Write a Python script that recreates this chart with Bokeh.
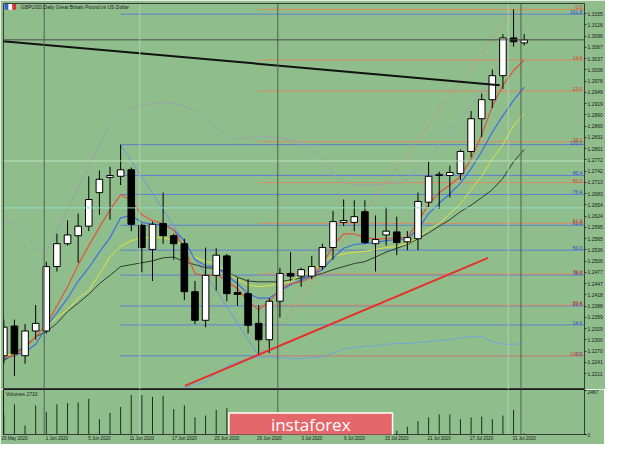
from bokeh.plotting import figure
from bokeh.models import (Range1d, FixedTicker, PrintfTickFormatter, Label, Span,
                          BoxAnnotation, ColumnDataSource)
from bokeh.layouts import column
from bokeh.embed import file_html
from bokeh.resources import INLINE
from bokeh.core.properties import value

NAN = float("nan")

# ---------------- data ----------------
opens = [1.2258, 1.2336, 1.2258, 1.2323, 1.2323, 1.2492, 1.2552, 1.2573, 1.2598, 1.2686,
         1.2726, 1.2729, 1.2746, 1.2600, 1.2537, 1.2605, 1.2573, 1.2552, 1.2426, 1.2351,
         1.2469, 1.2520, 1.2424, 1.2421, 1.2343, 1.2300, 1.2401, 1.2474, 1.2467, 1.2467,
         1.2492, 1.2542, 1.2608, 1.2608, 1.2636, 1.2552, 1.2575, 1.2583, 1.2557, 1.2565,
         1.2661, 1.2731, 1.2731, 1.2736, 1.2794, 1.2880, 1.2930, 1.2993, 1.3092, 1.3079]
highs = [1.2353, 1.2353, 1.2341, 1.2391, 1.2505, 1.2578, 1.2613, 1.2631, 1.2729, 1.2744,
         1.2754, 1.2812, 1.2752, 1.2605, 1.2610, 1.2686, 1.2578, 1.2565, 1.2454, 1.2542,
         1.2540, 1.2525, 1.2462, 1.2459, 1.2391, 1.2409, 1.2489, 1.2530, 1.2489, 1.2520,
         1.2552, 1.2638, 1.2668, 1.2666, 1.2666, 1.2626, 1.2648, 1.2623, 1.2585, 1.2686,
         1.2767, 1.2741, 1.2757, 1.2799, 1.2900, 1.2946, 1.3009, 1.3102, 1.3167, 1.3102]
lows = [1.2237, 1.2205, 1.2237, 1.2300, 1.2316, 1.2479, 1.2547, 1.2502, 1.2585, 1.2628,
        1.2615, 1.2706, 1.2585, 1.2477, 1.2454, 1.2552, 1.2510, 1.2404, 1.2341, 1.2333,
        1.2429, 1.2401, 1.2389, 1.2316, 1.2258, 1.2265, 1.2358, 1.2454, 1.2439, 1.2459,
        1.2484, 1.2510, 1.2598, 1.2585, 1.2552, 1.2479, 1.2547, 1.2522, 1.2535, 1.2535,
        1.2648, 1.2643, 1.2673, 1.2719, 1.2779, 1.2832, 1.2908, 1.2958, 1.3069, 1.3072]
closes = [1.2333, 1.2263, 1.2323, 1.2343, 1.2492, 1.2552, 1.2575, 1.2598, 1.2668, 1.2721,
          1.2731, 1.2746, 1.2603, 1.2542, 1.2603, 1.2573, 1.2552, 1.2426, 1.2351, 1.2469,
          1.2522, 1.2421, 1.2419, 1.2338, 1.2300, 1.2401, 1.2474, 1.2467, 1.2484, 1.2492,
          1.2542, 1.2610, 1.2613, 1.2623, 1.2555, 1.2563, 1.2585, 1.2555, 1.2568, 1.2663,
          1.2729, 1.2734, 1.2739, 1.2794, 1.2880, 1.2930, 1.2993, 1.3092, 1.3082, 1.3087]
volumes = [1100, 1690, 499, 1628, 1271, 1690, 1754, 1796, 2000, 856,
           1208, 1544, 2210, 2210, 2105, 2168, 1418, 1628, 961, 1061,
           1376, 1481, 961, 950, 980, 900, 940, 870, 1010, 820,
           760, 930, 1000, 780, 960, 720, 640, 210, 436, 751,
           961, 1124, 1124, 856, 961, 998, 856, 1061, 1376, 60]

ma_red = [1.2253, 1.2258, 1.2278, 1.2308, 1.2338, 1.2389, 1.2439, 1.2497, 1.2547, 1.2595,
          1.2641, 1.2681, 1.2666, 1.2628, 1.2613, 1.2605, 1.2588, 1.2540, 1.2474, 1.2467,
          1.2472, 1.2454, 1.2434, 1.2401, 1.2379, 1.2399, 1.2434, 1.2447, 1.2452, 1.2464,
          1.2497, 1.2547, 1.2578, 1.2578, 1.2568, 1.2565, 1.2565, 1.2568, 1.2568, 1.2610,
          1.2656, 1.2686, 1.2706, 1.2729, 1.2774, 1.2837, 1.2913, 1.2968, 1.3006, 1.3034]
ma_blue = [1.2250, 1.2258, 1.2268, 1.2288, 1.2333, 1.2371, 1.2409, 1.2454, 1.2489, 1.2530,
           1.2568, 1.2620, 1.2626, 1.2608, 1.2603, 1.2603, 1.2588, 1.2560, 1.2510, 1.2494,
           1.2492, 1.2469, 1.2447, 1.2421, 1.2409, 1.2409, 1.2429, 1.2444, 1.2457, 1.2469,
           1.2484, 1.2515, 1.2540, 1.2550, 1.2552, 1.2555, 1.2560, 1.2563, 1.2565, 1.2590,
           1.2631, 1.2658, 1.2683, 1.2711, 1.2749, 1.2794, 1.2845, 1.2888, 1.2928, 1.2963]
ma_yellow = [1.2263, 1.2260, 1.2278, 1.2308, 1.2333, 1.2358, 1.2379, 1.2409, 1.2429, 1.2472,
             1.2517, 1.2545, 1.2560, 1.2568, 1.2568, 1.2568, 1.2560, 1.2545, 1.2517, 1.2505,
             1.2500, 1.2477, 1.2459, 1.2444, 1.2439, 1.2442, 1.2447, 1.2454, 1.2469, 1.2479,
             1.2505, 1.2520, 1.2525, 1.2530, 1.2532, 1.2537, 1.2542, 1.2545, 1.2552, 1.2568,
             1.2590, 1.2605, 1.2631, 1.2656, 1.2694, 1.2729, 1.2774, 1.2812, 1.2862, 1.2893]
ma_dark = [1.2245, 1.2263, 1.2283, 1.2308, 1.2321, 1.2343, 1.2374, 1.2396, 1.2419, 1.2447,
           1.2469, 1.2492, 1.2497, 1.2502, 1.2507, 1.2515, 1.2517, 1.2505, 1.2497, 1.2489,
           1.2487, 1.2477, 1.2464, 1.2454, 1.2452, 1.2452, 1.2452, 1.2457, 1.2462, 1.2467,
           1.2474, 1.2484, 1.2492, 1.2500, 1.2505, 1.2517, 1.2530, 1.2540, 1.2550, 1.2565,
           1.2580, 1.2598, 1.2615, 1.2636, 1.2653, 1.2673, 1.2694, 1.2724, 1.2767, 1.2799]
bb_upper = [1.2615, 1.2603, 1.2578, 1.2540, 1.2530, 1.2585, 1.2641, 1.2699, 1.2749, 1.2812,
            1.2862, 1.2888, 1.2908, 1.2915, 1.2920, 1.2923, 1.2920, 1.2913, 1.2898, 1.2878,
            1.2855, 1.2837, 1.2825, 1.2830, 1.2832, 1.2832, 1.2830, 1.2825, 1.2817, 1.2799,
            1.2774, 1.2736, 1.2711, 1.2706, 1.2706, 1.2706, 1.2709, 1.2711, 1.2721, 1.2749,
            1.2779, 1.2812, 1.2842, 1.2878, 1.2913, 1.2951, 1.2993, 1.3039, 1.3089, 1.3127]
bb_lower = [NAN] * 17 + [1.2174, 1.2182, 1.2190, 1.2212, 1.2232, 1.2242, 1.2250, 1.2255,
                         1.2255, 1.2253, 1.2250, 1.2250, 1.2253, 1.2255, 1.2265, 1.2275,
                         1.2280, 1.2283, 1.2283, 1.2288, 1.2290, 1.2290, 1.2293, 1.2295,
                         1.2298, 1.2300, 1.2305, 1.2308, 1.2308, 1.2295, 1.2288, 1.2288,
                         1.2290]

date_tick_bars = [0, 4, 8, 12, 16, 20, 24, 28, 32, 36, 40, 44, 48]
date_tick_labels = ["26 May 2020", "1 Jun 2020", "5 Jun 2020", "11 Jun 2020", "17 Jun 2020",
                    "23 Jun 2020", "29 Jun 2020", "3 Jul 2020", "9 Jul 2020", "15 Jul 2020",
                    "21 Jul 2020", "27 Jul 2020", "31 Jul 2020"]
price_ticks = [1.3155, 1.3126, 1.3096, 1.3067, 1.3037, 1.3008, 1.2978, 1.2949, 1.2919, 1.2890,
               1.2860, 1.2831, 1.2801, 1.2772, 1.2742, 1.2713, 1.2683, 1.2654, 1.2624, 1.2595,
               1.2565, 1.2536, 1.2506, 1.2477, 1.2447, 1.2418, 1.2388, 1.2359, 1.2329, 1.2300,
               1.2270, 1.2241, 1.2211]
volume_ticks = [0, 2467]

fib_ratios = [0.0, 0.146, 0.236, 0.382, 0.5, 0.618, 0.764, 0.854, 1.0, 1.618]
fib_texts = ["0.0", "14.6", "23.6", "38.2", "50.0", "61.8", "76.4", "85.4", "100.0", "161.8"]
fib_blue_bars = [11, 24]      # swing high (Jun 10) -> swing low (Jun 29)
fib_orange_bars = [48, 24]    # swing high (Jul 31) -> swing low (Jun 29)

trend_black_x = [-0.3, 46.7]
trend_black_y = [1.3084, 1.2968]
trend_red_x = [17.05, 45.6]
trend_red_y = [1.2179, 1.2515]
hline_levels = [1.2769, 1.2646]
sep_dark = [3.8, 25.8, 48.7]
sep_light = [12.8, 47.5]

# ---------------- styling ----------------
BG = "#8fbd8b"
FONT = "Liberation Sans"
X_START, X_END = -0.03, 54.68
FRAME_W = 581

n = len(closes)
bars = list(range(n))
x_range = Range1d(X_START, X_END)

main = figure(frame_width=FRAME_W, frame_height=386, x_range=x_range,
              y_range=Range1d(1.21694, 1.31824), x_axis_location=None,
              y_axis_location="right", toolbar_location=None, output_backend="svg",
              min_border_left=3, min_border_top=3, min_border_right=20, min_border_bottom=0,
              background_fill_color=BG, border_fill_color=BG,
              outline_line_color="#3a3a3a", outline_line_width=1)
main.xgrid.grid_line_color = None
main.ygrid.grid_line_color = None
ya = main.yaxis[0]
ya.ticker = FixedTicker(ticks=price_ticks)
ya.formatter = PrintfTickFormatter(format="%.4f")
ya.major_label_text_font = FONT
ya.major_label_text_font_size = "5px"
ya.major_label_text_color = "#1a1a1a"
ya.major_label_standoff = 1
ya.major_tick_out = 2
ya.major_tick_in = 0
ya.minor_tick_line_color = None
ya.axis_line_color = "#3a3a3a"
ya.major_tick_line_color = "#3a3a3a"

# horizontal lines (bid line + two marker lines) and period separators
main.add_layout(Span(location=closes[-1], dimension="width", line_color="#4d4d4d", line_width=1))
main.add_layout(Span(location=hline_levels[0], dimension="width", line_color="#c6e2c2", line_width=1))
main.add_layout(Span(location=hline_levels[1], dimension="width", line_color="#8fe0cc", line_width=1))
for s in sep_dark:
    main.add_layout(Span(location=s, dimension="height", line_color="#555f55", line_width=1))
for s in sep_light:
    main.add_layout(Span(location=s, dimension="height", line_color="#b4ccb0", line_width=1))

# Fibonacci levels
b_hi, b_lo = highs[fib_blue_bars[0]], lows[fib_blue_bars[1]]
blue_levels = [b_lo + r * (b_hi - b_lo) for r in fib_ratios]
o_hi, o_lo = highs[fib_orange_bars[0]], lows[fib_orange_bars[1]]
orange_ratios = fib_ratios[:-1]
orange_texts = fib_texts[:-1]
orange_levels = [o_hi - r * (o_hi - o_lo) for r in orange_ratios]

main.segment(x0=[fib_blue_bars[0]] * len(blue_levels), y0=blue_levels,
             x1=[X_END] * len(blue_levels), y1=blue_levels,
             line_color="#5b82d2", line_width=1)
main.segment(x0=[fib_orange_bars[1]] * len(orange_levels), y0=orange_levels,
             x1=[X_END] * len(orange_levels), y1=orange_levels,
             line_color="#d98c62", line_width=1)
main.line([fib_blue_bars[0], fib_blue_bars[1]], [b_hi, b_lo], line_color="#6f96dc", line_width=1)
main.line([fib_orange_bars[1], fib_orange_bars[0]], [o_lo, o_hi], line_color="#cf9068",
          line_width=1, line_dash="3 2")

# Bollinger bands and moving averages
main.line(bars, bb_upper, line_color="#98a4aa", line_width=1)
main.line(bars, bb_lower, line_color="#6fa6d8", line_width=1)
main.line(bars, ma_dark, line_color="#2e3e2e", line_width=1)
main.line(bars, ma_yellow, line_color="#e2e23c", line_width=1)
main.line(bars, ma_blue, line_color="#3f6fe0", line_width=1.2)
main.line(bars, ma_red, line_color="#e0553e", line_width=1.2)

# candles
src = ColumnDataSource(dict(
    x=bars, o=opens, h=highs, l=lows, c=closes,
    top=[max(a, b) for a, b in zip(opens, closes)],
    bottom=[min(a, b) for a, b in zip(opens, closes)],
    fill=["#ffffff" if c >= o else "#000000" for o, c in zip(opens, closes)],
))
main.segment(x0="x", y0="l", x1="x", y1="h", source=src, line_color="#000000", line_width=1)
main.vbar(x="x", width=0.62, top="top", bottom="bottom", fill_color="fill",
          line_color="#000000", line_width=1, source=src)

# trend lines
main.line(trend_black_x, trend_black_y, line_color="#111111", line_width=2)
main.line(trend_red_x, trend_red_y, line_color="#e8302a", line_width=2)

# Fibonacci labels
main.text(x=[X_END - 0.2] * len(blue_levels), y=blue_levels, text=fib_texts,
          text_align="right", text_baseline="bottom", text_font=value(FONT),
          text_font_size="5px", text_color="#2c4ccc")
main.text(x=[X_END - 0.2] * len(orange_levels), y=orange_levels, text=orange_texts,
          text_align="right", text_baseline="bottom", text_font=value(FONT),
          text_font_size="5px", text_color="#d4401e")

# price tags on the axis
def axis_tag(y, bg, fg):
    main.add_layout(Label(x=X_END, y=y, text="%.4f" % y, x_offset=1,
                          text_align="left", text_baseline="middle",
                          text_font=FONT, text_font_size="5px", text_color=fg,
                          background_fill_color=bg, padding=1))

axis_tag(closes[-1], "#000000", "#ffffff")
axis_tag(hline_levels[0], "#f4f8f4", "#c8d8c8")
axis_tag(hline_levels[1], "#22e6d6", "#ffffff")

# title + icon
for (l, r, col) in [(0.08, 0.42, "#3b5bd6"), (0.45, 0.78, "#ffffff"), (0.81, 1.15, "#e03030")]:
    main.add_layout(BoxAnnotation(left=l, right=r, top=1.3181, bottom=1.3166,
                                  fill_color=col, fill_alpha=1, line_color=None))
main.add_layout(Label(x=1.6, y=1.31735, text="GBPUSD,Daily   Great Britain Pound vs US Dollar",
                      text_font=FONT, text_font_size="5px", text_color="#1e1e1e",
                      text_baseline="middle"))

# ---------------- volume panel ----------------
vol = figure(frame_width=FRAME_W, frame_height=45, x_range=x_range, y_range=Range1d(0, 2520),
             y_axis_location="right", toolbar_location=None, output_backend="svg",
             min_border_left=3, min_border_top=0, min_border_right=20, min_border_bottom=10,
             background_fill_color=BG, border_fill_color=BG,
             outline_line_color="#1a1a1a", outline_line_width=1)
vol.xgrid.grid_line_color = None
vol.ygrid.grid_line_color = None
for s in sep_dark:
    vol.add_layout(Span(location=s, dimension="height", line_color="#555f55", line_width=1))
for s in sep_light:
    vol.add_layout(Span(location=s, dimension="height", line_color="#b4ccb0", line_width=1))
vol.segment(x0=bars, y0=[0] * n, x1=bars, y1=volumes, line_color="#17301a", line_width=1)

va = vol.yaxis[0]
va.ticker = FixedTicker(ticks=volume_ticks)
va.major_label_text_font = FONT
va.major_label_text_font_size = "5px"
va.major_label_text_color = "#1a1a1a"
va.major_label_standoff = 1
va.major_tick_out = 2
va.major_tick_in = 0
va.minor_tick_line_color = None
va.axis_line_color = "#3a3a3a"

xa = vol.xaxis[0]
label_ticks = [b + 1 for b in date_tick_bars]
xa.ticker = FixedTicker(ticks=label_ticks)
xa.major_label_overrides = {t: lab for t, lab in zip(label_ticks, date_tick_labels)}
xa.major_label_text_font = FONT
xa.major_label_text_font_size = "4.5px"
xa.major_label_text_color = "#1a1a1a"
xa.major_label_standoff = 1
xa.major_tick_out = 0
xa.major_tick_in = 0
xa.minor_tick_line_color = None
xa.axis_line_color = "#3a3a3a"

vol.add_layout(Label(x=0.2, y=2250, text="Volumes 2710", text_font=FONT,
                     text_font_size="5px", text_color="#1e1e1e", text_baseline="middle"))

# logo
vol.add_layout(Label(x=28.9, y=560, text="instaforex", text_align="center",
                     text_baseline="middle", text_font="Open Sans",
                     text_font_size="17px", text_color="#ffffff",
                     background_fill_color="#e4676b", border_line_color="#ffffff",
                     border_line_width=1.5,
                     padding=dict(left=42, right=42, top=0, bottom=0)))

layout = column(main, vol, spacing=0)
open("out.html", "w").write(file_html(layout, INLINE))
